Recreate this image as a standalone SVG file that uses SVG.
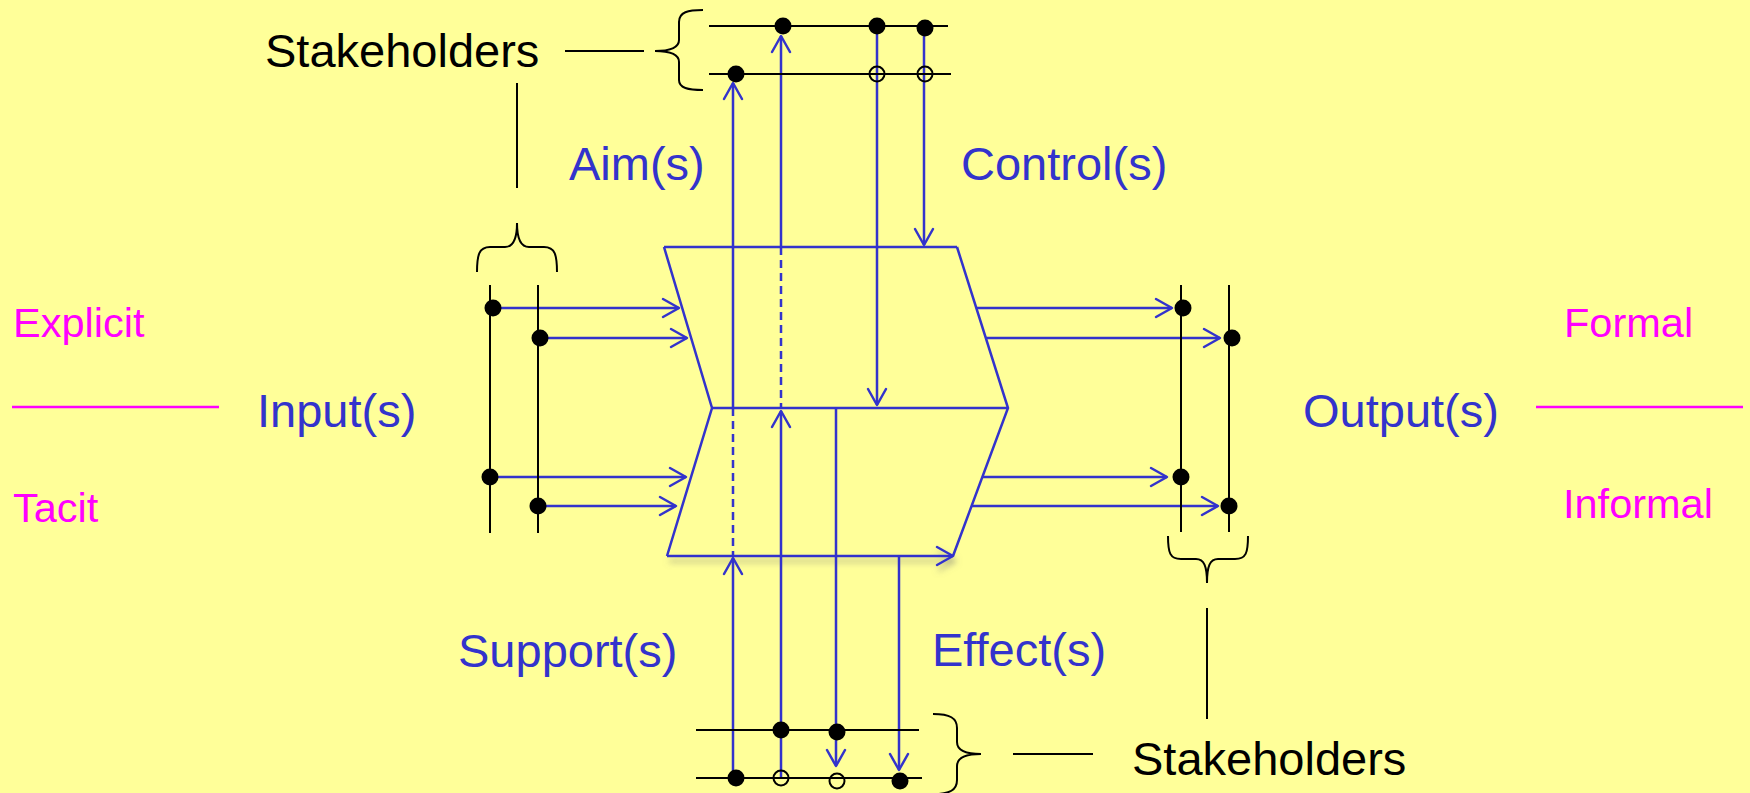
<svg xmlns="http://www.w3.org/2000/svg" width="1750" height="793" viewBox="0 0 1750 793">
<style>
.bl{stroke:#000;stroke-width:2;fill:none}
.bu{stroke:#3333CC;stroke-width:2.5;fill:none;stroke-linecap:butt}
.dash{stroke-dasharray:8 5}
.dot{fill:#000}
.od{fill:none;stroke:#000;stroke-width:2}
.lb{font-family:"Liberation Sans",Arial,sans-serif;font-size:47px;fill:#3333CC}
.pk{font-family:"Liberation Sans",Arial,sans-serif;font-size:41.5px;fill:#FF00FF}
.st{font-family:"Liberation Sans",Arial,sans-serif;font-size:47px;fill:#000}
.pl{stroke:#FF00FF;stroke-width:2.5}
</style>
<defs>
<marker id="ah" markerUnits="userSpaceOnUse" viewBox="-20 -12 24 24" markerWidth="24" markerHeight="24" refX="0" refY="0" orient="auto">
<path d="M-16,-9 L0,0 L-16,9" fill="none" stroke="#3333CC" stroke-width="2.5" stroke-linecap="round" stroke-linejoin="round"/>
</marker>
<filter id="sh" filterUnits="userSpaceOnUse" x="640" y="530" width="360" height="60">
<feDropShadow dx="2" dy="5" stdDeviation="3" flood-color="#777" flood-opacity="0.6"/>
</filter>
</defs>
<rect width="1750" height="793" fill="#FFFF99"/>

<g id="process">
<line class="bu" x1="667" y1="556" x2="953" y2="556" marker-end="url(#ah)" filter="url(#sh)"/>
<line class="bu" x1="664" y1="247" x2="957" y2="247"/>
<polyline class="bu" points="664,247 712,408 667,556"/>
<polyline class="bu" points="957,247 1008,408 953,556"/>
<line class="bu" x1="712" y1="408" x2="1008" y2="408"/>
</g>

<g id="connectors">
<line class="bu" x1="497" y1="308" x2="679" y2="308" marker-end="url(#ah)"/>
<line class="bu" x1="545" y1="338" x2="687" y2="338" marker-end="url(#ah)"/>
<line class="bu" x1="490" y1="477" x2="686" y2="477" marker-end="url(#ah)"/>
<line class="bu" x1="538" y1="506" x2="676" y2="506" marker-end="url(#ah)"/>
<line class="bu" x1="976" y1="308" x2="1172" y2="308" marker-end="url(#ah)"/>
<line class="bu" x1="986" y1="338" x2="1220" y2="338" marker-end="url(#ah)"/>
<line class="bu" x1="982" y1="477" x2="1167" y2="477" marker-end="url(#ah)"/>
<line class="bu" x1="972" y1="506" x2="1218" y2="506" marker-end="url(#ah)"/>
<line class="bu" x1="733" y1="778" x2="733" y2="558" marker-end="url(#ah)"/>
<line class="bu dash" x1="733" y1="408" x2="733" y2="556"/>
<line class="bu" x1="733" y1="408" x2="733" y2="83" marker-end="url(#ah)"/>
<line class="bu" x1="781" y1="778" x2="781" y2="411" marker-end="url(#ah)"/>
<line class="bu dash" x1="781" y1="247" x2="781" y2="408"/>
<line class="bu" x1="781" y1="247" x2="781" y2="36" marker-end="url(#ah)"/>
<line class="bu" x1="836" y1="408" x2="836" y2="766" marker-end="url(#ah)"/>
<line class="bu" x1="899" y1="556" x2="899" y2="770" marker-end="url(#ah)"/>
<line class="bu" x1="877" y1="26" x2="877" y2="405" marker-end="url(#ah)"/>
<line class="bu" x1="924" y1="28" x2="924" y2="245" marker-end="url(#ah)"/>
</g>

<g id="stakeholders-top">
<text class="st" x="265" y="67">Stakeholders</text>
<line class="bl" x1="565" y1="51" x2="644" y2="51"/>
<path class="bl" d="M703,10 C688,10 679,12 679,22 L679,40 C679,48 670,51 655,51 C670,51 679,54 679,62 L679,80 C679,88 688,90 703,90"/>
<line class="bl" x1="709" y1="26" x2="948" y2="26"/>
<line class="bl" x1="709" y1="74" x2="951" y2="74"/>
<circle class="dot" cx="783" cy="26" r="8.5"/>
<circle class="dot" cx="877" cy="26" r="8.5"/>
<circle class="dot" cx="925" cy="28" r="8.5"/>
<circle class="dot" cx="736" cy="74" r="8.5"/>
<circle class="od" cx="877" cy="74" r="7.5"/>
<circle class="od" cx="925" cy="74" r="7.5"/>
<line class="bl" x1="517" y1="83" x2="517" y2="188"/>
</g>

<g id="input-bus">
<path class="bl" d="M477,272 C477,255 479,247 490,247 L505,247 C513,247 517,240 517,223 C517,240 521,247 529,247 L544,247 C555,247 557,255 557,272"/>
<line class="bl" x1="490" y1="285" x2="490" y2="533"/>
<line class="bl" x1="538" y1="285" x2="538" y2="533"/>
<circle class="dot" cx="493" cy="308" r="8.5"/>
<circle class="dot" cx="540" cy="338" r="8.5"/>
<circle class="dot" cx="490" cy="477" r="8.5"/>
<circle class="dot" cx="538" cy="506" r="8.5"/>
</g>

<g id="output-bus">
<line class="bl" x1="1181" y1="285" x2="1181" y2="532"/>
<line class="bl" x1="1229" y1="285" x2="1229" y2="532"/>
<circle class="dot" cx="1183" cy="308" r="8.5"/>
<circle class="dot" cx="1232" cy="338" r="8.5"/>
<circle class="dot" cx="1181" cy="477" r="8.5"/>
<circle class="dot" cx="1229" cy="506" r="8.5"/>
<path class="bl" d="M1168,536 C1168,553 1170,559 1181,559 L1196,559 C1204,559 1207,566 1207,583 C1207,566 1210,559 1218,559 L1235,559 C1246,559 1248,553 1248,536"/>
<line class="bl" x1="1207" y1="608" x2="1207" y2="719"/>
</g>

<g id="stakeholders-bottom">
<line class="bl" x1="696" y1="730" x2="919" y2="730"/>
<line class="bl" x1="696" y1="778" x2="922" y2="778"/>
<circle class="dot" cx="781" cy="730" r="8.5"/>
<circle class="dot" cx="837" cy="732" r="8.5"/>
<circle class="dot" cx="736" cy="778" r="8.5"/>
<circle class="dot" cx="900" cy="781" r="8.5"/>
<circle class="od" cx="781" cy="778" r="7.5"/>
<circle class="od" cx="837" cy="781" r="7.5"/>
<path class="bl" d="M933,714 C950,714 957,718 957,728 L957,742 C957,750 965,754 981,754 C965,754 957,758 957,766 L957,780 C957,790 950,794 933,794"/>
<line class="bl" x1="1013" y1="754" x2="1093" y2="754"/>
<text class="st" x="1132" y="775">Stakeholders</text>
</g>

<g id="labels">
<text class="lb" x="569" y="180">Aim(s)</text>
<text class="lb" x="961" y="180">Control(s)</text>
<text class="lb" x="257" y="427">Input(s)</text>
<text class="lb" x="1303" y="427">Output(s)</text>
<text class="lb" x="458" y="667">Support(s)</text>
<text class="lb" x="932" y="666">Effect(s)</text>
</g>

<g id="knowledge-types">
<text class="pk" x="13" y="337">Explicit</text>
<text class="pk" x="13" y="522">Tacit</text>
<line class="pl" x1="12" y1="407" x2="219" y2="407"/>
<text class="pk" x="1564" y="337">Formal</text>
<text class="pk" x="1563" y="518">Informal</text>
<line class="pl" x1="1536" y1="407" x2="1743" y2="407"/>
</g>
</svg>
